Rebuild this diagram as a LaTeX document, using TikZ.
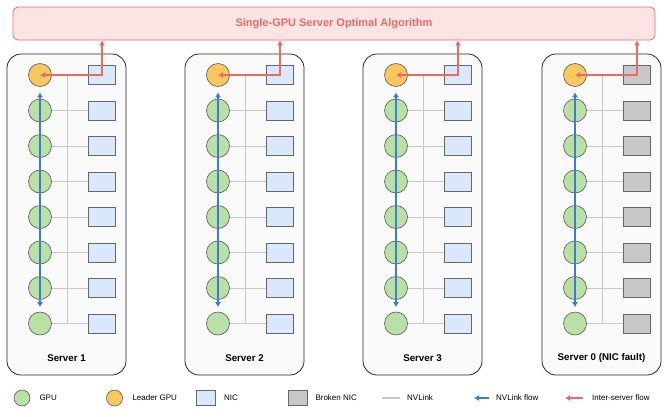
\documentclass[tikz,border=0pt]{standalone}
\usepackage{fontspec}
\setmainfont{Liberation Sans}
\usetikzlibrary{arrows.meta,positioning}
\definecolor{gpufill}{HTML}{B9E0A5}
\definecolor{leadfill}{HTML}{F7C85F}
\definecolor{nicfill}{HTML}{DAE8FC}
\definecolor{deadfill}{HTML}{C8C8C8}
\definecolor{srvfill}{HTML}{FAFAFA}
\definecolor{algofill}{HTML}{FCE4E4}
\definecolor{algored}{HTML}{EA6B66}
\definecolor{flowblue}{HTML}{3E7DCC}
\definecolor{linkgrey}{HTML}{C8C8C8}

\begin{document}
\begin{tikzpicture}[
  x=1pt,y=-1pt,>=Latex,
  algo/.style={draw=algored,fill=algofill,rounded corners=5pt,line width=0.8pt,
    minimum width=642pt,minimum height=33pt,text=algored,
    font=\fontsize{11}{13}\selectfont\bfseries},
  server/.style={draw=black!85,fill=srvfill,rounded corners=14pt,line width=0.8pt,
    minimum width=119pt,minimum height=321pt,inner sep=0pt},
  srvname/.style={font=\fontsize{9.75}{12}\selectfont\bfseries},
  gpu/.style={circle,draw=black!65,fill=gpufill,minimum size=23pt,inner sep=0pt,line width=0.6pt},
  leader/.style={gpu,fill=leadfill},
  nic/.style={draw=black!60,fill=nicfill,minimum width=27pt,minimum height=19pt,inner sep=0pt,line width=0.6pt},
  broken/.style={nic,fill=deadfill},
  nvlink/.style={draw=linkgrey,line width=1pt},
  nvflow/.style={<->,draw=flowblue,line width=2pt,>={Latex[length=5pt,width=6pt]}},
  interflow/.style={<->,draw=algored,line width=2.2pt,>={Latex[length=5pt,width=6pt]}},
  keytext/.style={anchor=west,inner sep=0pt,font=\fontsize{8}{10}\selectfont}
]
\useasboundingbox (0,0) rectangle (668,416);
\node[algo] (algo) at (334,23.5) {Single-GPU Server Optimal Algorithm};
\foreach \x/\s/\nicst/\lab in {7/1/nic/Server 1,185/2/nic/Server 2,363/3/nic/Server 3,542/0/broken/Server 0 (NIC fault)}{
  \node[server] (srv\s) at (\x+59.5,214.5) {};
  \node[srvname] (name\s) at (\x+59.5,358) {\lab};
  \node[leader] (g\s-1) at (\x+33,75) {};
  \node[\nicst] (n\s-1) at (\x+95,75) {};
  \coordinate (b\s-1) at (\x+60,75);
  \foreach \r in {2,...,8}{
    \pgfmathsetmacro\yy{75+(\r-1)*35.5}
    \node[gpu] (g\s-\r) at (\x+33,\yy) {};
    \node[\nicst] (n\s-\r) at (\x+95,\yy) {};
    \coordinate (b\s-\r) at (\x+60,\yy);
  }
  \draw[nvlink] (b\s-1) -- (b\s-8);
  \foreach \r in {1,...,8}
    \draw[nvlink] (g\s-\r) -- (n\s-\r);
  \draw[nvflow] ([yshift=-5.5pt]g\s-1.south) -- ([yshift=4.5pt]g\s-8.north);
  \draw[interflow] (g\s-1.center) -| (n\s-1.center |- algo.south);
}
\node[gpu,minimum size=16pt] (key-gpu) at (22,398) {};
\node[keytext,right=9pt of key-gpu] (key-gpu-t) {GPU};
\node[leader,minimum size=16pt] (key-lead) at (114.5,398) {};
\node[keytext,right=9.5pt of key-lead] (key-lead-t) {Leader GPU};
\node[nic,minimum width=19pt,minimum height=15pt] (key-nic) at (206,398) {};
\node[keytext,right=8pt of key-nic] (key-nic-t) {NIC};
\node[broken,minimum width=19pt,minimum height=15pt] (key-dead) at (297.5,398) {};
\node[keytext,right=8pt of key-dead] (key-dead-t) {Broken NIC};
\coordinate (key-link-a) at (382,398);
\coordinate (key-link-b) at (400,398);
\draw[nvlink,line width=2pt] (key-link-a) -- (key-link-b);
\node[keytext,right=7pt of key-link-b] (key-link-t) {NVLink};
\coordinate (key-flow-a) at (474,398);
\coordinate (key-flow-b) at (489,398);
\draw[flowblue,line width=2pt,<-,>={Latex[length=5pt,width=6pt]}] (key-flow-a) -- (key-flow-b);
\node[keytext,right=7pt of key-flow-b] (key-flow-t) {NVLink flow};
\coordinate (key-inter-a) at (565,398);
\coordinate (key-inter-b) at (583,398);
\draw[algored,line width=2.2pt,<-,>={Latex[length=5pt,width=6pt]}] (key-inter-a) -- (key-inter-b);
\node[keytext,right=9pt of key-inter-b] (key-inter-t) {Inter-server flow};
\end{tikzpicture}
\end{document}
